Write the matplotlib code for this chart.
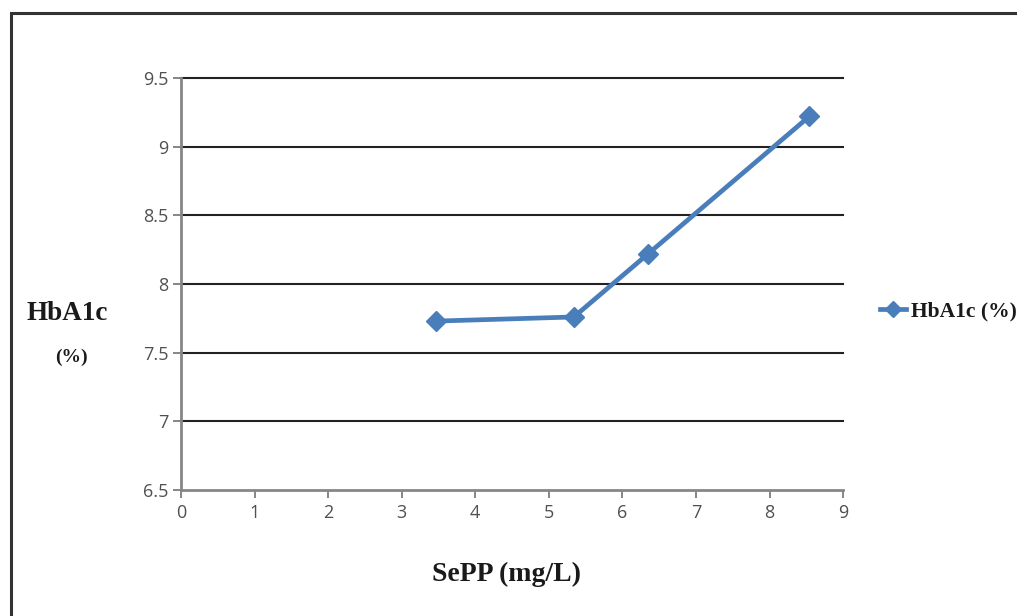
import matplotlib.pyplot as plt
from matplotlib.patches import Rectangle

# SePP vs HbA1c means
sepp = [3.47, 5.34, 6.35, 8.54]
hba1c = [7.73, 7.76, 8.22, 9.22]
series_name = "HbA1c (%)"

x_ticks = [0, 1, 2, 3, 4, 5, 6, 7, 8, 9]
y_ticks = [6.5, 7, 7.5, 8, 8.5, 9, 9.5]

line_blue = "#4a7ebb"
axis_gray = "#868686"
tick_gray = "#505050"
label_dark = "#1a1a1a"

fig = plt.figure(figsize=(10.17, 6.16), dpi=100)
ax = fig.add_axes([0.178, 0.2045, 0.651, 0.6689])

# outer frame
fig.patches.append(Rectangle((11 / 1017, -0.1), 1.2, 1.1 - 13 / 616,
                             transform=fig.transFigure, fill=False,
                             edgecolor="#333333", linewidth=2.2, zorder=0))

for y in y_ticks[1:]:
    ax.axhline(y, color="#222222", linewidth=1.5, zorder=1, clip_on=False)

ax.plot(sepp, hba1c, color=line_blue, linewidth=3.4, marker="D",
        markersize=10, markeredgecolor=line_blue, zorder=3, label=series_name)

ax.set_xlim(0, 9)
ax.set_ylim(6.5, 9.5)
ax.set_xticks(x_ticks)
ax.set_yticks(y_ticks)
ax.set_xticklabels([str(v) for v in x_ticks])
ax.set_yticklabels(["6.5", "7", "7.5", "8", "8.5", "9", "9.5"])

for side in ["top", "right"]:
    ax.spines[side].set_visible(False)
for side in ["left", "bottom"]:
    ax.spines[side].set_color(axis_gray)
    ax.spines[side].set_linewidth(2)

ax.tick_params(axis="both", direction="out", length=6, width=1.4,
               color=axis_gray, labelcolor=tick_gray, labelsize=13)
ax.tick_params(axis="y", pad=3)
ax.tick_params(axis="x", pad=4)
for lbl in ax.get_xticklabels() + ax.get_yticklabels():
    lbl.set_family("Open Sans")

serif = "Liberation Serif"
fig.text(67 / 1017, 1 - 314 / 616, "HbA1c", family=serif, weight="bold",
         fontsize=19.5, color=label_dark, ha="center", va="center")
fig.text(71 / 1017, 1 - 357 / 616, "(%)", family=serif, weight="bold",
         fontsize=14, color=label_dark, ha="center", va="center")
fig.text(507 / 1017, 1 - 574 / 616, "SePP (mg/L)", family=serif,
         weight="bold", fontsize=20, color=label_dark, ha="center",
         va="center")

leg = ax.legend(loc="center left", bbox_to_anchor=(1.026, 0.433),
                frameon=False, handlelength=1.2, handletextpad=0.25,
                prop={"family": serif, "weight": "bold", "size": 15.5},
                markerscale=0.8)
for t in leg.get_texts():
    t.set_color(label_dark)

fig.savefig("out.png", dpi=100)
